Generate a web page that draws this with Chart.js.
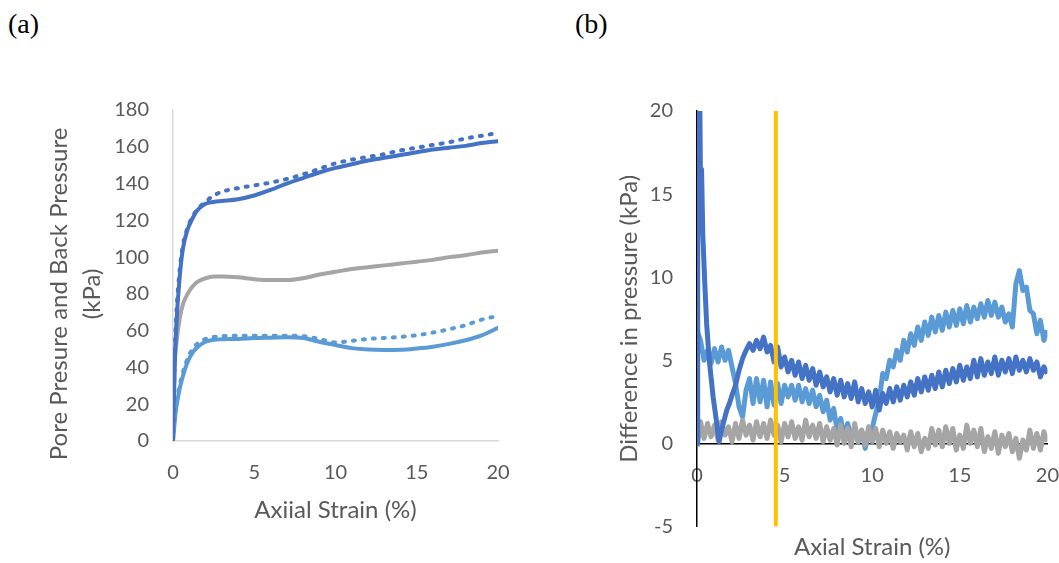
<!DOCTYPE html>
<html>
<head>
<meta charset="utf-8">
<script src="https://cdn.jsdelivr.net/npm/chart.js@4"></script>
<style>
  body { margin: 0; background: #fff; overflow: hidden; }
  #wrap { position: relative; width: 1059px; height: 563px; overflow: hidden; }
  canvas { position: absolute; top: 0; }
  #chartA { left: 0; }
  #chartB { left: 540px; }
  .tag { position: absolute; top: 8px; font: 28px "Liberation Serif", "Times New Roman", serif; color: #000; }
</style>
</head>
<body>
<div id="wrap">
  <div class="tag" style="left:8px">(a)</div>
  <div class="tag" style="left:575px">(b)</div>
  <canvas id="chartA" width="540" height="563"></canvas>
  <canvas id="chartB" width="539" height="563"></canvas>
</div>
<script>
// (a) pore pressure and back pressure against axial strain
const strainA = [0, 0.1, 0.2, 0.4, 0.6, 0.9, 1.2, 1.5, 2, 2.5, 3, 4, 5, 6, 7, 8, 9, 10, 11, 12, 13, 14, 15, 16, 17, 18, 19, 20];
const darkSolidA = [0, 40, 62, 88, 104, 115, 121, 125.5, 129, 130, 130.5, 131.5, 133.5, 136.5, 140, 143, 146, 148.5, 150.5, 152.5, 154, 155.5, 157, 158.5, 159.5, 160.5, 162, 163];
const darkDotA = [0, 45, 68, 92, 106, 116, 122, 126, 130, 133.5, 135.5, 137.5, 139, 140.5, 142.5, 145, 148, 151, 153, 154.5, 156, 158, 159.5, 161, 162.5, 164.5, 166, 167.5];
const grayA = [0, 40, 52, 66, 74, 80, 84, 86.5, 88.5, 89.5, 89.5, 89, 88, 87.5, 87.5, 88.5, 90.5, 92, 93.5, 94.5, 95.5, 96.5, 97.5, 98.5, 100, 101, 102.5, 103.5];
const lightSolidA = [0, 10, 18, 28, 35, 43, 48, 51, 54, 55, 55.3, 55.5, 56, 56.2, 56.4, 56, 54, 52.2, 50.5, 49.7, 49.5, 49.6, 50.3, 51.3, 52.8, 54.8, 57.5, 61.5];
const lightDotA = [0, 12, 20, 30, 37, 45, 50, 53, 55.5, 56.5, 57, 57.3, 57.3, 57.2, 57.3, 57, 55.5, 53.6, 54.5, 55.5, 56, 56.6, 57.5, 59, 60.8, 63, 66, 68];

// (b) difference in pressure against axial strain
const strainB = [
  0, 0.2, 0.4, 0.6, 0.8, 1, 1.2, 1.4, 1.6, 1.8,
  2, 2.2, 2.4, 2.6, 2.8, 3, 3.2, 3.4, 3.6, 3.8,
  4, 4.2, 4.4, 4.6, 4.8, 5, 5.2, 5.4, 5.6, 5.8,
  6, 6.2, 6.4, 6.6, 6.8, 7, 7.2, 7.4, 7.6, 7.8,
  8, 8.2, 8.4, 8.6, 8.8, 9, 9.2, 9.4, 9.6, 9.8,
  10, 10.2, 10.4, 10.6, 10.8, 11, 11.2, 11.4, 11.6, 11.8,
  12, 12.2, 12.4, 12.6, 12.8, 13, 13.2, 13.4, 13.6, 13.8,
  14, 14.2, 14.4, 14.6, 14.8, 15, 15.2, 15.4, 15.6, 15.8,
  16, 16.2, 16.4, 16.6, 16.8, 17, 17.2, 17.4, 17.6, 17.8,
  18, 18.2, 18.4, 18.6, 18.8, 19, 19.2, 19.4, 19.6, 19.8,
  20
];
const lightB = [
  6.8, 6.2, 5.0, 5.6, 4.8, 5.7, 4.9, 5.8, 5.0, 5.6,
  4.6, 3.6, 2.2, 1.6, 3.2, 3.9, 2.4, 3.9, 2.5, 3.8,
  2.2, 3.7, 2.3, 3.6, 2.4, 3.5, 2.8, 3.5, 2.6, 3.5,
  2.5, 3.3, 2.4, 3.2, 2.2, 2.9, 1.9, 2.6, 1.4, 2.1,
  0.8, 1.5, 0.4, 1.2, 0.3, 0.9, 0.1, 0.8, -0.3, 0.6,
  0.9, 1.8, 2.6, 4.2, 3.9, 5.0, 4.6, 5.6, 5.0, 6.2,
  5.5, 6.6, 5.9, 7.0, 6.2, 7.3, 6.5, 7.6, 6.7, 7.7,
  6.8, 7.9, 7.0, 8.0, 7.1, 8.1, 7.2, 8.3, 7.3, 8.2,
  7.5, 8.4, 7.6, 8.6, 7.7, 8.5, 7.6, 8.2, 7.3, 7.8,
  7.0, 9.6, 10.4, 9.2, 9.4, 8.0, 7.8, 6.6, 7.4, 6.2,
  6.8
];
const grayB = [
  -0.2, 1.3, 0.3, 1.2, 0.4, 1.1, 0.2, 1.3, 0.5, 1.0,
  0.1, 1.2, 0.3, 1.4, 0.5, 1.1, 0.2, 1.3, 0.4, 1.2,
  0.3, 1.4, 0.5, 1.1, 0.1, 1.2, 0.4, 1.3, 0.3, 1.0,
  0.2, 1.4, 0.4, 1.1, 0.3, 1.2, 0.1, 1.0, 0.2, 0.9,
  -0.1, 1.1, 0.0, 0.9, -0.2, 1.2, 0.1, 0.8, -0.1, 1.0,
  0.1, 0.9, -0.2, 0.8, 0.0, 0.7, -0.3, 0.6, 0.1, 0.5,
  -0.4, 0.7, -0.2, 0.6, -0.5, 0.3, -0.3, 0.9, -0.1, 0.8,
  -0.2, 1.0, 0.0, 0.9, -0.4, 0.5, -0.3, 1.1, 0.0, 0.8,
  -0.2, 0.9, -0.5, 0.4, -0.3, 0.7, -0.6, 0.5, -0.2, 0.6,
  -0.5, 0.3, -0.9, 0.2, -0.4, 0.8, -0.3, 0.6, -0.4, 0.7,
  0.1
];
// the dark series is sampled finer over the first 2 % where it drops off
const darkStrainB = [
  0, 0.04, 0.15, 0.2, 0.26, 0.33, 0.45, 0.55, 0.7, 0.8,
  0.92, 1.05, 1.15, 1.26, 1.4, 1.55, 1.7, 1.85, 2,
  2.2, 2.4, 2.6, 2.8, 3, 3.2, 3.4, 3.6, 3.8, 4,
  4.2, 4.4, 4.6, 4.8, 5, 5.2, 5.4, 5.6, 5.8, 6,
  6.2, 6.4, 6.6, 6.8, 7, 7.2, 7.4, 7.6, 7.8, 8,
  8.2, 8.4, 8.6, 8.8, 9, 9.2, 9.4, 9.6, 9.8, 10,
  10.2, 10.4, 10.6, 10.8, 11, 11.2, 11.4, 11.6, 11.8, 12,
  12.2, 12.4, 12.6, 12.8, 13, 13.2, 13.4, 13.6, 13.8, 14,
  14.2, 14.4, 14.6, 14.8, 15, 15.2, 15.4, 15.6, 15.8, 16,
  16.2, 16.4, 16.6, 16.8, 17, 17.2, 17.4, 17.6, 17.8, 18,
  18.2, 18.4, 18.6, 18.8, 19, 19.2, 19.4, 19.6, 19.8, 20
];
const darkB = [
  0, 22, 22, 15.5, 16.5, 12.6, 9.5, 7.2, 5.0, 4.0,
  2.8, 1.8, 1.0, 0.1, 0.8, 1.4, 2.0, 2.4, 2.9,
  3.5, 4.4, 5.1, 5.6, 6.0, 5.6, 6.2, 5.7, 6.4, 5.5,
  5.9, 4.9, 5.8, 4.6, 5.2, 4.3, 5.0, 4.1, 4.9, 3.9,
  4.7, 3.8, 4.5, 3.5, 4.3, 3.4, 4.0, 3.1, 3.9, 2.9,
  3.8, 2.8, 3.6, 2.7, 3.7, 2.5, 3.3, 2.4, 3.1, 2.2,
  3.2, 2.0, 3.0, 2.4, 3.3, 2.5, 3.4, 2.6, 3.5, 2.8,
  3.7, 2.9, 3.9, 3.1, 4.0, 3.2, 4.1, 3.3, 4.3, 3.4,
  4.4, 3.6, 4.5, 3.7, 4.7, 3.8, 4.6, 3.9, 5.0, 4.0,
  5.1, 4.1, 4.9, 4.2, 5.2, 4.1, 5.0, 4.3, 5.1, 4.2,
  5.2, 4.4, 5.0, 4.3, 5.1, 4.4, 4.9, 4.0, 4.6, 4.2
];
const markerStrain = 4.5;
const diffRange = [20, -5];

const DARK = "#4472C4";
const LIGHT = "#5B9BD5";
const GRAY = "#A5A5A5";
const GOLD = "#FFC000";

Chart.defaults.font.family = "Lato";
Chart.defaults.color = "#595959";
Chart.defaults.animation = false;
Chart.defaults.plugins.legend.display = false;
Chart.defaults.plugins.tooltip.enabled = false;

const xy = (xs, ys) => xs.map((x, i) => ({ x, y: ys[i] }));

const lineA = (data, color, dotted) => ({
	data,
	borderColor: color,
	borderWidth: 4,
	borderDash: dotted ? [2, 8] : [],
	borderCapStyle: "round",
	cubicInterpolationMode: "monotone",
	pointRadius: 0,
});

const lineB = (data, color) => ({
	data,
	borderColor: color,
	borderWidth: 5,
	borderJoinStyle: "round",
	pointRadius: 0,
	tension: 0,
});

const renderPressureChart = () => {
	const datasets = [
		lineA(xy(strainA, darkDotA), DARK, true),
		lineA(xy(strainA, darkSolidA), DARK, false),
		lineA(xy(strainA, grayA), GRAY, false),
		lineA(xy(strainA, lightDotA), LIGHT, true),
		lineA(xy(strainA, lightSolidA), LIGHT, false),
	];
	const options = {
		responsive: false,
		layout: { padding: { top: 110, right: 42, bottom: 0, left: 0 } },
		scales: {
			x: {
				type: "linear",
				min: 0,
				max: 20,
				ticks: { stepSize: 5, padding: 20, font: { size: 20 } },
				grid: { display: false, drawTicks: false },
				border: { color: "#D9D9D9", width: 1.5 },
				title: { display: true, text: "Axiial Strain (%)", font: { size: 24 }, padding: { bottom: 38 } },
				afterFit: (s) => { s.height = 122; },
			},
			y: {
				min: 0,
				max: 180,
				ticks: { stepSize: 20, padding: 24, font: { size: 20 } },
				grid: { display: false, drawTicks: false },
				border: { color: "#D9D9D9", width: 1.5 },
				title: {
					display: true,
					text: ["Pore Presure and Back Pressure      ", "(kPa)      "],
					font: { size: 24, lineHeight: 1.375 },
					padding: { top: 42.5 },
				},
				afterFit: (s) => { s.width = 173; },
			},
		},
	};
	new Chart("chartA", { type: "line", data: { datasets }, options });
};

const renderDifferenceChart = () => {
	const datasets = [
		{
			data: diffRange.map((y) => ({ x: markerStrain, y })),
			borderColor: GOLD,
			borderWidth: 4,
			pointRadius: 0,
		},
		lineB(xy(darkStrainB, darkB), DARK),
		lineB(xy(strainB, grayB), GRAY),
		lineB(xy(strainB, lightB), LIGHT),
	];
	const options = {
		responsive: false,
		layout: { autoPadding: false, padding: { top: 111, right: 12, bottom: 0, left: 0 } },
		scales: {
			x: {
				type: "linear",
				position: { y: 0 },
				min: 0,
				max: 20,
				ticks: { stepSize: 5, padding: 20, font: { size: 20 } },
				grid: { display: false, drawTicks: false },
				border: { color: "#000", width: 1.5 },
			},
			x2: {
				type: "linear",
				position: "bottom",
				min: 0,
				max: 20,
				ticks: { display: false },
				grid: { display: false, drawTicks: false },
				border: { display: false },
				title: { display: true, text: "Axial Strain (%)", font: { size: 24 }, padding: { bottom: 1 } },
				afterFit: (s) => { s.height = 36.5; },
			},
			y: {
				min: -5,
				max: 20,
				ticks: { stepSize: 5, padding: 24, font: { size: 20 } },
				grid: { display: false, drawTicks: false },
				border: { color: "#000", width: 1.5 },
				title: {
					display: true,
					text: "Difference in pressure (kPa)",
					font: { size: 24 },
					padding: { top: 74.6 },
				},
				afterFit: (s) => { s.width = 157; },
			},
		},
	};
	new Chart("chartB", { type: "line", data: { datasets }, options });
};

renderPressureChart();
renderDifferenceChart();
</script>
</body>
</html>
